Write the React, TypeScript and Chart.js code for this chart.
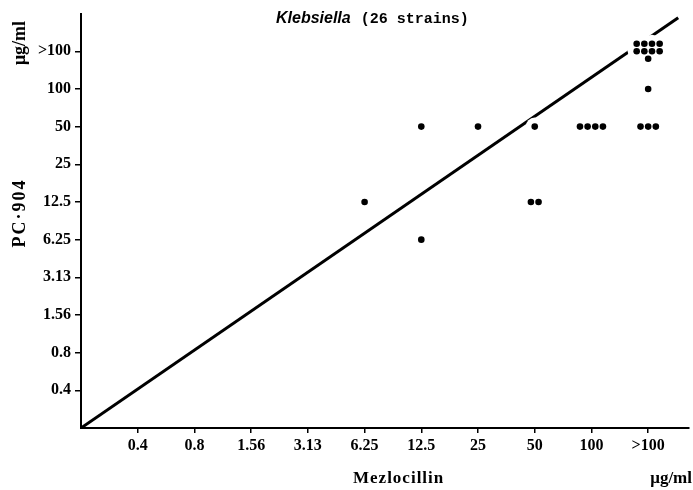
import React, { useEffect, useRef } from 'react';
import { Chart, registerables } from 'chart.js';

Chart.register(...registerables);

// Tick labels (MIC dilution steps, µg/ml), placed at positions 1..10
const tickLabels = ['0.4', '0.8', '1.56', '3.13', '6.25', '12.5', '25', '50', '100', '>100'];

// One entry per strain: Mezlocillin MIC (x) and PC-904 MIC (y)
const mezlocillinMIC = [
  '6.25', '12.5', '12.5', '25', '50', '50', '50',
  '100', '100', '100', '100',
  '>100', '>100', '>100', '>100',
  '>100', '>100', '>100', '>100', '>100', '>100', '>100', '>100', '>100',
];
const pc904MIC = [
  '12.5', '50', '6.25', '50', '50', '12.5', '12.5',
  '50', '50', '50', '50',
  '50', '50', '50', '100',
  '>100', '>100', '>100', '>100', '>100', '>100', '>100', '>100', '>100',
];

// Reference line (in dilution-step units)
const diagonalX = [0, 10.53];
const diagonalY = [0, 10.89];

const titleItalic = 'Klebsiella';
const titleRest = '(26 strains)';
const xAxisTitle = 'Mezlocillin';
const yAxisTitle = 'PC\u00B7904';
const unitText = '\u03BCg/ml';

const CLUSTER_DX = 0.135;
const CLUSTER_DY = 0.2;
const PER_ROW = 4;

function buildPoints() {
  const groups = new Map<string, number>();
  mezlocillinMIC.forEach((xv, i) => {
    const key = xv + '|' + pc904MIC[i];
    groups.set(key, (groups.get(key) || 0) + 1);
  });
  const pts: { x: number; y: number }[] = [];
  groups.forEach((n, key) => {
    const [xv, yv] = key.split('|');
    const cx = tickLabels.indexOf(xv) + 1;
    const cy = tickLabels.indexOf(yv) + 1;
    const rows = Math.ceil(n / PER_ROW);
    for (let r = 0; r < rows; r++) {
      const k = Math.min(PER_ROW, n - r * PER_ROW);
      for (let j = 0; j < k; j++) {
        pts.push({
          x: cx + (j - (k - 1) / 2) * CLUSTER_DX,
          y: cy + ((rows - 1) / 2 - r) * CLUSTER_DY,
        });
      }
    }
  });
  return pts;
}

const FONT_SERIF = '"Liberation Serif", "Times New Roman", serif';

const decorPlugin = {
  id: 'decor',
  beforeDatasetDraw(chart: any, args: any) {
    if (args.index !== 0) return;
    const ctx = chart.ctx;
    ctx.save();
    ctx.fillStyle = '#ffffff';
    args.meta.data.forEach((el: any) => {
      ctx.beginPath();
      ctx.arc(el.x, el.y, 9, 0, Math.PI * 2);
      ctx.fill();
    });
    ctx.restore();
  },
  afterDraw(chart: any) {
    const ctx = chart.ctx;
    ctx.save();
    ctx.fillStyle = '#000';
    ctx.textBaseline = 'alphabetic';
    // Title
    ctx.textAlign = 'left';
    ctx.font = 'bold italic 16px "Liberation Sans", Arial, sans-serif';
    const tx = 276;
    ctx.fillText(titleItalic, tx, 23);
    const w = ctx.measureText(titleItalic).width;
    ctx.font = 'bold 15px "Liberation Mono", "DejaVu Sans Mono", monospace';
    ctx.fillText(titleRest, tx + w + 10, 23);

    // X axis title
    ctx.font = 'bold 17px ' + FONT_SERIF;
    (ctx as any).letterSpacing = '1px';
    ctx.textAlign = 'left';
    ctx.fillText(xAxisTitle, 353, 483);
    (ctx as any).letterSpacing = '0px';
    ctx.font = 'bold 17px ' + FONT_SERIF;
    ctx.textAlign = 'right';
    ctx.fillText(unitText, 692, 483);

    // Y axis titles (rotated)
    ctx.save();
    ctx.translate(25, 213);
    ctx.rotate(-Math.PI / 2);
    ctx.textAlign = 'center';
    ctx.font = 'bold 18px ' + FONT_SERIF;
    (ctx as any).letterSpacing = '2px';
    ctx.fillText(yAxisTitle, 0, 0);
    ctx.restore();

    ctx.save();
    ctx.translate(25, 43);
    ctx.rotate(-Math.PI / 2);
    ctx.textAlign = 'center';
    ctx.font = 'bold 18px ' + FONT_SERIF;
    ctx.fillText(unitText, 0, 0);
    ctx.restore();

    ctx.restore();
  },
};

export default function App() {
  const canvasRef = useRef<HTMLCanvasElement | null>(null);

  useEffect(() => {
    const canvas = canvasRef.current;
    if (!canvas) return;
    const stepTicks = (scale: any) => {
      scale.ticks = tickLabels.map((_, i) => ({ value: i + 1 }));
    };
    const tickCb = (v: any) => tickLabels[Math.round(Number(v)) - 1] ?? '';
    const chart = new Chart(canvas, {
      type: 'scatter',
      data: {
        datasets: [
          {
            label: 'strains',
            data: buildPoints(),
            pointRadius: 3.3,
            pointBackgroundColor: '#000',
            pointBorderWidth: 0,
            showLine: false,
          },
          {
            label: 'diagonal',
            data: diagonalX.map((x, i) => ({ x, y: diagonalY[i] })),
            showLine: true,
            borderColor: '#000',
            borderWidth: 3,
            pointRadius: 0,
            fill: false,
          },
        ],
      },
      options: {
        responsive: false,
        animation: false,
        devicePixelRatio: 1,
        layout: { padding: { top: 8, right: 0, left: 0, bottom: 0 } },
        plugins: {
          legend: { display: false },
          tooltip: { enabled: false },
          title: { display: false },
        },
        scales: {
          x: {
            type: 'linear',
            min: 0,
            max: 10.72,
            afterBuildTicks: stepTicks,
            afterFit: (s: any) => {
              s.height = 62;
            },
            grid: {
              display: true,
              drawOnChartArea: false,
              drawTicks: true,
              tickLength: 5,
              color: '#000',
              lineWidth: 1.5,
            },
            border: { display: true, color: '#000', width: 2 },
            ticks: {
              callback: tickCb,
              color: '#000',
              padding: 3,
              maxRotation: 0,
              autoSkip: false,
              font: { family: FONT_SERIF, size: 16, weight: 'bold' },
            },
          },
          y: {
            type: 'linear',
            min: 0,
            max: 11,
            afterBuildTicks: stepTicks,
            afterFit: (s: any) => {
              s.width = 81;
            },
            grid: {
              display: true,
              drawOnChartArea: false,
              drawTicks: true,
              tickLength: 6,
              color: '#000',
              lineWidth: 1.5,
            },
            border: { display: true, color: '#000', width: 2 },
            ticks: {
              callback: tickCb,
              color: '#000',
              padding: 4,
              autoSkip: false,
              font: { family: FONT_SERIF, size: 16, weight: 'bold' },
            },
          },
        },
      },
      plugins: [decorPlugin],
    } as any);
    return () => chart.destroy();
  }, []);

  return (
    <div style={{ position: 'absolute', left: 0, top: 0, width: 693, height: 490, background: '#fff' }}>
      <canvas ref={canvasRef} width={693} height={490} style={{ width: 693, height: 490, display: 'block' }} />
    </div>
  );
}
